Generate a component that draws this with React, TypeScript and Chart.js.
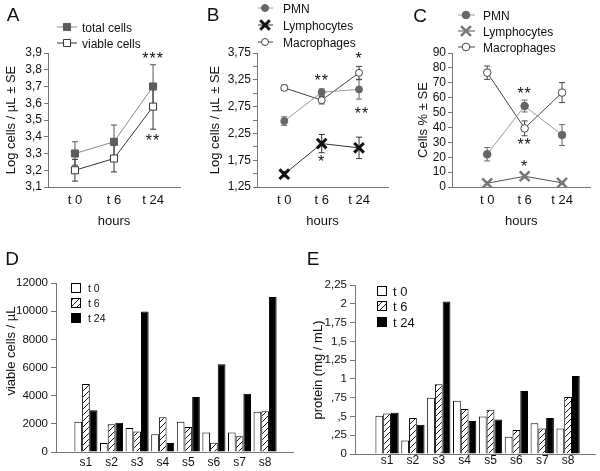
import React, { useEffect, useRef } from 'react';
import { Chart, registerables } from 'chart.js';
Chart.register(...registerables);

const FONT = '"Liberation Sans", Arial, sans-serif';
const TEXT = '#111';
const AXIS = '#777';

// ---------- data ----------
const hours = ['t 0', 't 6', 't 24'];

const aTotal = [3.3, 3.37, 3.7];
const aTotalErr = [0.07, 0.1, 0.13];
const aViable = [3.2, 3.27, 3.58];
const aViableErr = [0.065, 0.08, 0.135];
const aTicks = [3.1, 3.2, 3.3, 3.4, 3.5, 3.6, 3.7, 3.8, 3.9];
const aTickLabels = ['3,1', '3,2', '3,3', '3,4', '3,5', '3,6', '3,7', '3,8', '3,9'];
const aStars: [number, number, string][] = [[2, 3.89, '***'], [2, 3.4, '**']];

const bPMN = [2.48, 3.02, 3.07];
const bPMNErr = [0.08, 0.06, 0.18];
const bLym = [1.49, 2.06, 1.98];
const bLymErr = [0.05, 0.17, 0.2];
const bMac = [3.1, 2.87, 3.38];
const bMacErr = [0.05, 0.07, 0.12];
const bTicks = [1.25, 1.5, 1.75, 2, 2.25, 2.5, 2.75, 3, 3.25, 3.5, 3.75];
const bTickLabels = ['1,25', '', '1,75', '', '2,25', '', '2,75', '', '3,25', '', '3,75'];
const bStars: [number, number, string][] = [[1, 3.31, '**'], [2, 3.71, '*'], [2.08, 2.7, '**'], [1, 1.8, '*']];

const cPMN = [22, 54.4, 34.9];
const cPMNErr = [4.5, 4, 7];
const cLym = [2.5, 7.2, 2.8];
const cLymErr = [1, 1.2, 0.8];
const cMac = [76.8, 39.4, 63.4];
const cMacErr = [4.5, 5, 6.7];
const cTicks = [0, 10, 20, 30, 40, 50, 60, 70, 80, 90];
const cTickLabels = ['0', '10', '20', '30', '40', '50', '60', '70', '80', '90'];
const cStars: [number, number, string][] = [[1, 65.6, '**'], [1, 31, '**'], [1, 16, '*']];

const samples = ['s1', 's2', 's3', 's4', 's5', 's6', 's7', 's8'];
const timeLabels = ['t 0', 't 6', 't 24'];

const dT0 = [2140, 640, 1710, 1260, 2140, 1380, 1380, 2850];
const dT6 = [4820, 1970, 1450, 2470, 1780, 665, 1120, 2900];
const dT24 = [2970, 2070, 9980, 640, 3900, 6230, 4130, 11000];
const dTicks = [0, 2000, 4000, 6000, 8000, 10000, 12000];
const dTickLabels = ['0', '2000', '4000', '6000', '8000', '10000', '12000'];

const eT0 = [0.51, 0.18, 0.75, 0.71, 0.5, 0.23, 0.41, 0.34];
const eT6 = [0.54, 0.48, 0.93, 0.6, 0.59, 0.32, 0.34, 0.76];
const eT24 = [0.55, 0.39, 2.03, 0.44, 0.46, 0.84, 0.48, 1.04];
const eTicks = [0, 0.25, 0.5, 0.75, 1, 1.25, 1.5, 1.75, 2, 2.25];
const eTickLabels = ['0', ',25', ',5', ',75', '1', '1,25', '1,5', '1,75', '2', '2,25'];

// ---------- helpers ----------
type Series = {
  label: string; values: number[]; errors: number[]; style: string; r: number;
  fill: string; stroke: string; lw: number; line: string; err: string;
};

function drawMarker(ctx: CanvasRenderingContext2D, s: Series, x: number, y: number) {
  ctx.save();
  ctx.lineWidth = s.lw; ctx.strokeStyle = s.stroke; ctx.fillStyle = s.fill;
  ctx.beginPath();
  if (s.style === 'circle') {
    ctx.arc(x, y, s.r, 0, Math.PI * 2); ctx.fill(); ctx.stroke();
  } else if (s.style === 'rect') {
    const h = s.r * Math.SQRT1_2; ctx.rect(x - h, y - h, 2 * h, 2 * h); ctx.fill(); ctx.stroke();
  } else {
    const o = s.r * Math.SQRT1_2;
    ctx.moveTo(x - o, y - o); ctx.lineTo(x + o, y + o);
    ctx.moveTo(x - o, y + o); ctx.lineTo(x + o, y - o); ctx.stroke();
  }
  ctx.restore();
}

function drawLetter(ctx: CanvasRenderingContext2D, t: string, x: number, y: number) {
  ctx.save();
  ctx.font = `19px ${FONT}`; ctx.fillStyle = TEXT; ctx.textAlign = 'center'; ctx.textBaseline = 'alphabetic';
  ctx.fillText(t, x, y + 0.358 * 19);
  ctx.restore();
}

const errorBars = {
  id: 'errorBars',
  beforeDatasetsDraw(chart: any) {
    const ctx = chart.ctx as CanvasRenderingContext2D;
    const ys = chart.scales.y;
    chart.data.datasets.forEach((ds: any, di: number) => {
      if (!ds.errors) return;
      const meta = chart.getDatasetMeta(di);
      meta.data.forEach((pt: any, i: number) => {
        const v = ds.data[i].y; const e = ds.errors[i];
        const t = ys.getPixelForValue(v + e); const b = ys.getPixelForValue(v - e);
        ctx.save(); ctx.strokeStyle = ds.errColor; ctx.lineWidth = 1;
        ctx.beginPath();
        ctx.moveTo(pt.x, t); ctx.lineTo(pt.x, b);
        ctx.moveTo(pt.x - 3, t); ctx.lineTo(pt.x + 3, t);
        ctx.moveTo(pt.x - 3, b); ctx.lineTo(pt.x + 3, b);
        ctx.stroke(); ctx.restore();
      });
    });
  },
};

type LinePanel = {
  left: number; top: number; width: number; height: number;
  area: { l: number; t: number; r: number; b: number };
  series: Series[]; yTicks: number[]; yLabels: string[]; yMin: number; yMax: number;
  xMin: number; xMax: number; yTitle: string; yTitleX: number; xLabelY: number; hoursY: number;
  letter: [string, number, number];
  legend: { x1: number; x2: number; mx: number; tx: number; rows: number[]; size: number };
  stars: [number, number, string][];
};

function lineConfig(p: LinePanel): any {
  const yW = p.area.l - p.left;
  const xH = p.top + p.height - p.area.b;
  const lh = 13 * 1.2;
  const deco = {
    id: 'deco',
    afterDraw(chart: any) {
      const ctx = chart.ctx as CanvasRenderingContext2D;
      drawLetter(ctx, p.letter[0], p.letter[1] - p.left, p.letter[2] - p.top);
      p.series.forEach((s, i) => {
        const y = p.legend.rows[i] - p.top;
        ctx.save(); ctx.strokeStyle = s.line; ctx.lineWidth = 1;
        ctx.beginPath(); ctx.moveTo(p.legend.x1 - p.left, y); ctx.lineTo(p.legend.x2 - p.left, y); ctx.stroke();
        ctx.restore();
        drawMarker(ctx, s, p.legend.mx - p.left, y);
        ctx.save(); ctx.font = `${p.legend.size}px ${FONT}`; ctx.fillStyle = TEXT; ctx.textBaseline = 'alphabetic';
        ctx.fillText(s.label, p.legend.tx - p.left, y + 0.358 * p.legend.size + 0.5);
        ctx.restore();
      });
      const xs = chart.scales.x; const ys = chart.scales.y;
      p.stars.forEach(([x, y, t]) => {
        ctx.save(); ctx.font = `16px ${FONT}`; ctx.fillStyle = TEXT; ctx.textAlign = 'center';
        (ctx as any).letterSpacing = '1px';
        ctx.fillText(t, xs.getPixelForValue(x), ys.getPixelForValue(y) + 9.3);
        ctx.restore();
      });
    },
  };
  return {
    type: 'line',
    data: {
      datasets: p.series.map((s) => ({
        label: s.label,
        data: s.values.map((y, i) => ({ x: i, y })),
        errors: s.errors, errColor: s.err,
        borderColor: s.line, borderWidth: 1, tension: 0, fill: false,
        pointStyle: s.style === 'cross' ? 'crossRot' : s.style, pointRadius: s.r, pointHoverRadius: s.r,
        pointBackgroundColor: s.fill, pointBorderColor: s.stroke, pointBorderWidth: s.lw,
      })),
    },
    options: {
      animation: false, responsive: false, events: [],
      layout: { padding: { left: 0, top: p.area.t - p.top, right: p.left + p.width - p.area.r, bottom: 0 } },
      plugins: { legend: { display: false }, tooltip: { enabled: false } },
      scales: {
        x: {
          type: 'linear', min: p.xMin, max: p.xMax, offset: false,
          afterBuildTicks: (s: any) => { s.ticks = hours.map((_, i) => ({ value: i })); },
          afterFit: (s: any) => { s.height = xH; },
          ticks: { autoSkip: false, maxRotation: 0, padding: p.xLabelY - p.area.b - lh / 2, color: TEXT, font: { family: FONT, size: 13 }, callback: (_v: any, i: number) => hours[i] },
          grid: { display: false, drawTicks: false },
          border: { display: true, color: AXIS, width: 1 },
          title: { display: true, text: 'hours', color: TEXT, font: { family: FONT, size: 13 }, padding: { top: 0, bottom: p.top + p.height - p.hoursY - lh / 2 } },
        },
        y: {
          type: 'linear', min: p.yMin, max: p.yMax,
          afterBuildTicks: (s: any) => { s.ticks = p.yTicks.map((v) => ({ value: v })); },
          afterFit: (s: any) => { s.width = yW; },
          ticks: { autoSkip: false, padding: 2, color: TEXT, font: { family: FONT, size: 12 }, callback: (_v: any, i: number) => p.yLabels[i] },
          grid: { display: true, drawOnChartArea: false, drawTicks: true, tickLength: 4, color: AXIS },
          border: { display: true, color: AXIS, width: 1 },
          title: { display: true, text: p.yTitle, color: TEXT, font: { family: FONT, size: 13 }, padding: { top: p.yTitleX - p.left - lh / 2, bottom: 0 } },
        },
      },
    },
    plugins: [errorBars, deco],
  };
}

type BarPanel = {
  left: number; top: number; width: number; height: number;
  area: { l: number; t: number; r: number; b: number };
  values: number[][]; yTicks: number[]; yLabels: string[]; yMin: number; yMax: number;
  xMin: number; xMax: number; yTitle: string; yTitleX: number; yTitleY: number; xLabelY: number;
  letter: [string, number, number];
  legend: { bx: number; box: number; tx: number; rows: number[]; size: number };
};

function hatchPattern(): CanvasPattern | string {
  const c = document.createElement('canvas'); c.width = 6; c.height = 6;
  const g = c.getContext('2d');
  if (!g) return '#999';
  g.fillStyle = '#fff'; g.fillRect(0, 0, 6, 6);
  g.strokeStyle = '#000'; g.lineWidth = 0.9;
  g.beginPath();
  g.moveTo(0, 6); g.lineTo(6, 0);
  g.moveTo(-1, 1); g.lineTo(1, -1);
  g.moveTo(5, 7); g.lineTo(7, 5);
  g.stroke();
  return g.createPattern(c, 'repeat') || '#999';
}

function barConfig(p: BarPanel): any {
  const yW = p.area.l - p.left;
  const xH = p.top + p.height - p.area.b;
  const fills = ['#ffffff', hatchPattern(), '#000000'];
  const deco = {
    id: 'deco',
    afterDraw(chart: any) {
      const ctx = chart.ctx as CanvasRenderingContext2D;
      drawLetter(ctx, p.letter[0], p.letter[1] - p.left, p.letter[2] - p.top);
      // y axis title
      ctx.save();
      ctx.translate(p.yTitleX - p.left, p.yTitleY - p.top);
      ctx.rotate(-Math.PI / 2);
      ctx.font = `13px ${FONT}`; ctx.fillStyle = TEXT; ctx.textAlign = 'center'; ctx.textBaseline = 'middle';
      ctx.fillText(p.yTitle, 0, 0);
      ctx.restore();
      timeLabels.forEach((t, i) => {
        const y = p.legend.rows[i] - p.top; const bx = p.legend.bx - p.left; const h = p.legend.box;
        ctx.save();
        ctx.fillStyle = fills[i] as any; ctx.fillRect(bx, y - h / 2, h, h);
        ctx.strokeStyle = '#000'; ctx.lineWidth = 1; ctx.strokeRect(bx + 0.5, y - h / 2 + 0.5, h - 1, h - 1);
        ctx.font = `${p.legend.size}px ${FONT}`; ctx.fillStyle = TEXT; ctx.textBaseline = 'alphabetic';
        ctx.fillText(t, p.legend.tx - p.left, y + 0.358 * p.legend.size);
        ctx.restore();
      });
    },
  };
  return {
    type: 'bar',
    data: {
      datasets: p.values.map((vals, k) => ({
        label: timeLabels[k],
        data: vals.map((y, i) => ({ x: i, y })),
        backgroundColor: fills[k], borderColor: '#000', borderWidth: 1,
        categoryPercentage: 0.9, barPercentage: 1,
      })),
    },
    options: {
      animation: false, responsive: false, events: [],
      layout: { padding: { left: 0, top: p.area.t - p.top, right: p.left + p.width - p.area.r, bottom: 0 } },
      plugins: { legend: { display: false }, tooltip: { enabled: false } },
      scales: {
        x: {
          type: 'linear', min: p.xMin, max: p.xMax, offset: false,
          afterBuildTicks: (s: any) => { s.ticks = samples.map((_, i) => ({ value: i })); },
          afterFit: (s: any) => { s.height = xH; },
          ticks: { autoSkip: false, maxRotation: 0, padding: p.xLabelY - p.area.b - 12 * 1.2 / 2, color: TEXT, font: { family: FONT, size: 12 }, callback: (_v: any, i: number) => samples[i] },
          grid: { display: false, drawTicks: false },
          border: { display: true, color: AXIS, width: 1 },
        },
        y: {
          type: 'linear', min: p.yMin, max: p.yMax,
          afterBuildTicks: (s: any) => { s.ticks = p.yTicks.map((v) => ({ value: v })); },
          afterFit: (s: any) => { s.width = yW; },
          ticks: { autoSkip: false, padding: 3, color: TEXT, font: { family: FONT, size: 11.5 }, callback: (_v: any, i: number) => p.yLabels[i] },
          grid: { display: true, drawOnChartArea: false, drawTicks: true, tickLength: 5, color: AXIS },
          border: { display: true, color: AXIS, width: 1 },
          title: { display: false },
        },
      },
    },
    plugins: [deco],
  };
}

// ---------- panels ----------
const panelA: LinePanel = {
  left: 0, top: 0, width: 192, height: 240,
  area: { l: 48, t: 53, r: 180, b: 187 },
  series: [
    { label: 'total cells', values: aTotal, errors: aTotalErr, style: 'rect', r: 5, fill: '#5c5c5c', stroke: '#5c5c5c', lw: 1, line: '#8a8a8a', err: '#555' },
    { label: 'viable cells', values: aViable, errors: aViableErr, style: 'rect', r: 5, fill: '#ffffff', stroke: '#333', lw: 1, line: '#333', err: '#333' },
  ],
  yTicks: aTicks, yLabels: aTickLabels, yMin: 3.1, yMax: 3.9,
  xMin: -0.69, xMax: 2.69, yTitle: 'Log cells / µL ± SE', yTitleX: 11, xLabelY: 200, hoursY: 221,
  letter: ['A', 13, 14],
  legend: { x1: 57, x2: 77, mx: 67, tx: 82, rows: [27, 43], size: 12 },
  stars: aStars,
};

const panelB: LinePanel = {
  left: 195, top: 0, width: 203, height: 240,
  area: { l: 257, t: 53, r: 392, b: 187 },
  series: [
    { label: 'PMN', values: bPMN, errors: bPMNErr, style: 'circle', r: 3.5, fill: '#666', stroke: '#666', lw: 1, line: '#9a9a9a', err: '#666' },
    { label: 'Lymphocytes', values: bLym, errors: bLymErr, style: 'cross', r: 6.8, fill: '#111', stroke: '#111', lw: 3, line: '#333', err: '#333' },
    { label: 'Macrophages', values: bMac, errors: bMacErr, style: 'circle', r: 3.5, fill: '#ffffff', stroke: '#444', lw: 1, line: '#444', err: '#444' },
  ],
  yTicks: bTicks, yLabels: bTickLabels, yMin: 1.25, yMax: 3.75,
  xMin: -0.73, xMax: 2.78, yTitle: 'Log cells / µL ± SE', yTitleX: 215, xLabelY: 200, hoursY: 221,
  letter: ['B', 213, 14],
  legend: { x1: 258, x2: 273, mx: 265, tx: 283, rows: [8, 25, 42], size: 12 },
  stars: bStars,
};

const panelC: LinePanel = {
  left: 400, top: 0, width: 200, height: 240,
  area: { l: 452, t: 53, r: 595, b: 187 },
  series: [
    { label: 'PMN', values: cPMN, errors: cPMNErr, style: 'circle', r: 3.8, fill: '#666', stroke: '#666', lw: 1, line: '#9a9a9a', err: '#666' },
    { label: 'Lymphocytes', values: cLym, errors: cLymErr, style: 'cross', r: 7, fill: '#777', stroke: '#777', lw: 2.5, line: '#555', err: '#555' },
    { label: 'Macrophages', values: cMac, errors: cMacErr, style: 'circle', r: 3.8, fill: '#ffffff', stroke: '#444', lw: 1, line: '#444', err: '#444' },
  ],
  yTicks: cTicks, yLabels: cTickLabels, yMin: 0, yMax: 90,
  xMin: -0.94, xMax: 2.76, yTitle: 'Cells % ± SE', yTitleX: 423, xLabelY: 200, hoursY: 221,
  letter: ['C', 420, 15],
  legend: { x1: 458, x2: 475, mx: 466, tx: 483, rows: [15, 31, 47], size: 12 },
  stars: cStars,
};

const panelD: BarPanel = {
  left: 0, top: 240, width: 300, height: 231,
  area: { l: 56, t: 283, r: 293, b: 452 },
  values: [dT0, dT6, dT24], yTicks: dTicks, yLabels: dTickLabels, yMin: 0, yMax: 12000,
  xMin: -1.17, xMax: 8.09, yTitle: 'viable cells / µL', yTitleX: 11, yTitleY: 351, xLabelY: 463,
  letter: ['D', 12, 258],
  legend: { bx: 71, box: 10, tx: 88, rows: [288, 303, 318], size: 10.5 },
};

const panelE: BarPanel = {
  left: 300, top: 240, width: 300, height: 231,
  area: { l: 355, t: 285, r: 595, b: 454 },
  values: [eT0, eT6, eT24], yTicks: eTicks, yLabels: eTickLabels, yMin: 0, yMax: 2.25,
  xMin: -1.24, xMax: 8.04, yTitle: 'protein (mg / mL)', yTitleX: 318, yTitleY: 370, xLabelY: 461,
  letter: ['E', 313, 258],
  legend: { bx: 377, box: 10, tx: 393, rows: [291, 306, 322], size: 13 },
};

function ChartCanvas({ left, top, width, height, make }: { left: number; top: number; width: number; height: number; make: () => any }) {
  const ref = useRef<HTMLCanvasElement>(null);
  useEffect(() => {
    if (!ref.current) return;
    const chart = new Chart(ref.current, make());
    return () => chart.destroy();
  }, []);
  return (
    <canvas ref={ref} width={width} height={height}
      style={{ position: 'absolute', left, top, width, height, display: 'block' }} />
  );
}

export default function App() {
  return (
    <div style={{ position: 'absolute', left: 0, top: 0, width: 600, height: 471, background: '#fff', overflow: 'hidden' }}>
      {[panelA, panelB, panelC].map((p, i) => (
        <ChartCanvas key={'l' + i} left={p.left} top={p.top} width={p.width} height={p.height} make={() => lineConfig(p)} />
      ))}
      {[panelD, panelE].map((p, i) => (
        <ChartCanvas key={'b' + i} left={p.left} top={p.top} width={p.width} height={p.height} make={() => barConfig(p)} />
      ))}
    </div>
  );
}
